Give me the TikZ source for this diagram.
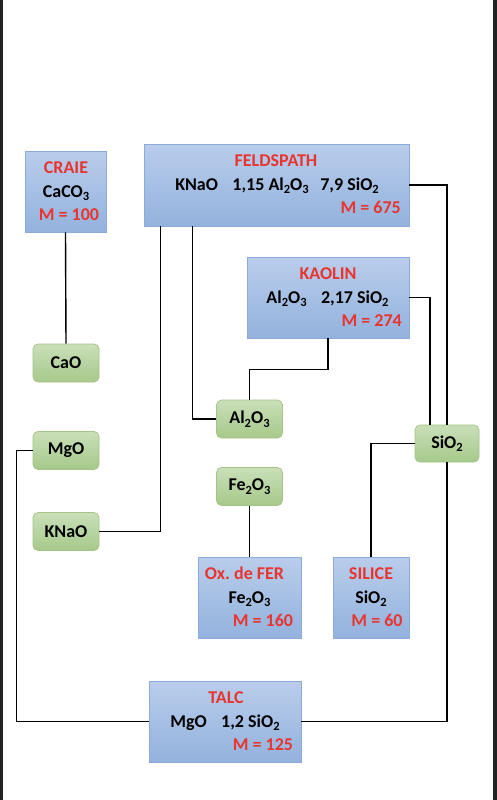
\documentclass[tikz,border=0pt]{standalone}
\usepackage{fontspec}
\setmainfont{Carlito}
\usetikzlibrary{calc}
\usepackage{xcolor}
\definecolor{boxTop}{HTML}{B9CDEB}
\definecolor{boxBot}{HTML}{93B2DD}
\definecolor{boxLine}{HTML}{8EAADB}
\definecolor{oxTop}{HTML}{CADFB9}
\definecolor{oxBot}{HTML}{A6C98A}
\definecolor{oxLine}{HTML}{A3C387}
\definecolor{titleRed}{HTML}{E8352F}
\definecolor{frameDark}{HTML}{222222}
\newcommand{\boxfont}{\fontsize{18}{21}\selectfont\bfseries}
\newcommand{\ix}[1]{\raisebox{-3.5pt}{\fontsize{12.5}{12}\selectfont #1}}
\frenchspacing

\begin{document}
\begin{tikzpicture}[
  x=1pt, y=-1pt, font=\boxfont,
  mineral/.style={draw=boxLine, line width=0.7pt, top color=boxTop, bottom color=boxBot, inner sep=0pt},
  oxide/.style={draw=oxLine, line width=0.7pt, rounded corners=5pt, top color=oxTop, bottom color=oxBot, minimum width=66pt, minimum height=38pt, inner sep=0pt},
  mtitle/.style={anchor=base, text=titleRed, inner sep=0pt},
  mformula/.style={anchor=base, inner sep=0pt},
  mmass/.style={anchor=base, text=titleRed, inner sep=0pt},
  link/.style={line width=1.4pt, black}
]
% page and side bars
\fill[white] (0,0) rectangle (497,800);
\useasboundingbox (0,0) rectangle (497,800);
\fill[frameDark] (0,0) rectangle (3,800);
\fill[frameDark] (493,0) rectangle (497,800);

% raw materials
\node[mineral, minimum width=81pt, minimum height=81pt] (craie) at (65.5,191.5) {};
\node[mtitle] at (66,173.5) {CRAIE};
\node[mformula] at (66,197) {CaCO\ix{3}};
\node[mmass] at (69,220.5) {M = 100};

\node[mineral, minimum width=265pt, minimum height=82pt] (feld) at (276.5,185) {};
\node[mtitle] at (276,166.5) {FELDSPATH};
\node[mformula] at (277,190) {KNaO\hspace{0.8em}1,15 Al\ix{2}O\ix{3}\hspace{0.65em}7,9 SiO\ix{2}};
\node[mmass, anchor=base east] at (401,213.5) {M = 675};

\node[mineral, minimum width=162pt, minimum height=81pt] (kaolin) at (328,297.5) {};
\node[mtitle] at (328,279.5) {KAOLIN};
\node[mformula] at (327.5,303) {Al\ix{2}O\ix{3}\hspace{0.8em}2,17 SiO\ix{2}};
\node[mmass, anchor=base east] at (402,326.5) {M = 274};

\node[mineral, minimum width=103pt, minimum height=81pt] (oxfer) at (249.5,597.5) {};
\node[mtitle] at (244.5,579.5) {Ox. de FER};
\node[mformula] at (249.5,603) {Fe\ix{2}O\ix{3}};
\node[mmass] at (263,626.5) {M = 160};

\node[mineral, minimum width=76pt, minimum height=81pt] (silice) at (371,597.5) {};
\node[mtitle] at (371,579.5) {SILICE};
\node[mformula] at (371,603) {SiO\ix{2}};
\node[mmass] at (377,626.5) {M = 60};

\node[mineral, minimum width=152pt, minimum height=81pt] (talc) at (225,721.5) {};
\node[mtitle] at (226,703.5) {TALC};
\node[mformula] at (225,727) {MgO\hspace{0.8em}1,2 SiO\ix{2}};
\node[mmass] at (263,750.5) {M = 125};

% oxides
\foreach \id/\x/\y/\txt in {cao/66/363/CaO, mgo/66/450.5/MgO, knao/66/531.5/KNaO,
    al/249.5/419/{Al\ix{2}O\ix{3}}, fe/249.5/486.5/{Fe\ix{2}O\ix{3}}} {
  \node[oxide] (\id) at (\x,\y) {\txt};
}
\node[oxide, minimum width=64pt, minimum height=37pt] (sio) at (447,443.5) {SiO\ix{2}};

% links
\draw[link] (craie.south) -- (cao.north);
\draw[link] ([xshift=17pt]feld.south west) |- (knao.east);
\draw[link] ([xshift=49pt]feld.south west) |- (al.west);
\draw[link] (kaolin.south) -- ++(0,31) -| (al.north);
\draw[link] (kaolin.east) -| ([xshift=-17pt]sio.north);
\draw[link] (feld.east) -| (sio.north);
\draw[link] (sio.west) -| (silice.north);
\draw[link] (fe.south) -- (oxfer.north);
\draw[link] (sio.south) |- (talc.east);
\draw[link] (mgo.west) -- ++(-16,0) |- (talc.west);
\end{tikzpicture}
\end{document}
